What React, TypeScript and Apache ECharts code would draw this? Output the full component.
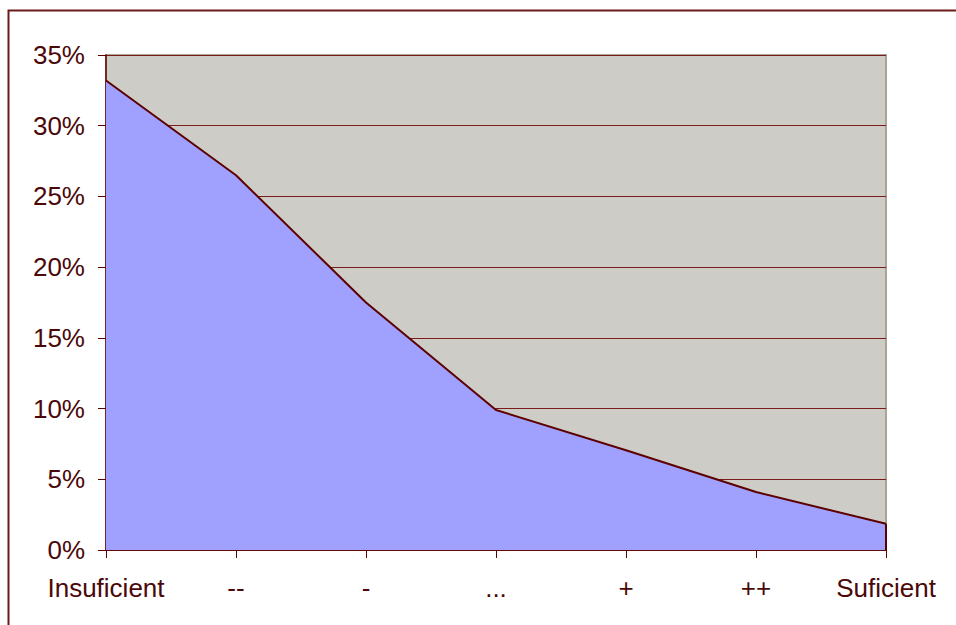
import React, { useEffect, useRef } from "react";
import * as echarts from "echarts";

const categories = ["Insuficient", "--", "-", "...", "+", "++", "Suficient"];
const values = [33.2, 26.5, 17.5, 9.9, 7.05, 4.1, 1.85];
const yTicks = { min: 0, max: 35, interval: 5 };

const textColor = "#4a0808";
const lineColor = "#5c0000";

export default function App() {
  const ref = useRef<HTMLDivElement>(null);
  useEffect(() => {
    const chart = echarts.init(ref.current!, null, { renderer: "svg" });
    const last = categories.length - 1;
    chart.setOption({
      animation: false,
      backgroundColor: "#ffffff",
      graphic: [
        {
          type: "rect",
          shape: { x: 8.5, y: 10.5, width: 1000, height: 700 },
          style: { fill: "none", stroke: "#6a1a1a", lineWidth: 2 },
          silent: true,
          z: 100,
        },
      ],
      grid: {
        left: 106,
        right: 70,
        top: 55,
        bottom: 75,
        show: true,
        backgroundColor: "#CDCCC6",
        borderColor: "#A8A496",
        borderWidth: 2,
      },
      xAxis: {
        type: "category",
        data: categories,
        boundaryGap: false,
        axisLine: { show: true, lineStyle: { color: lineColor, width: 1.5 } },
        axisTick: { show: true, alignWithLabel: true, length: 8, lineStyle: { color: lineColor } },
        axisLabel: {
          color: textColor,
          fontFamily: "Liberation Sans",
          fontSize: 26,
          margin: 25,
          interval: 0,
          showMinLabel: true,
          showMaxLabel: true,
        },
        splitLine: { show: false },
      },
      yAxis: {
        type: "value",
        min: yTicks.min,
        max: yTicks.max,
        interval: yTicks.interval,
        axisLine: { show: true, lineStyle: { color: lineColor, width: 1.5 } },
        axisTick: { show: true, length: 8, lineStyle: { color: lineColor } },
        axisLabel: {
          color: textColor,
          fontFamily: "Liberation Sans",
          fontSize: 26,
          margin: 21,
          formatter: "{value}%",
        },
        splitLine: { show: true, lineStyle: { color: "#7a1c1c", width: 1 } },
      },
      series: [
        {
          type: "line",
          data: values,
          symbol: "none",
          lineStyle: { color: lineColor, width: 2 },
          areaStyle: { color: "#A0A0FF", opacity: 1 },
          markLine: {
            silent: true,
            symbol: "none",
            label: { show: false },
            lineStyle: { color: lineColor, width: 2, type: "solid" },
            data: [
              [
                { coord: [categories[last], values[last]] },
                { coord: [categories[last], 0] },
              ],
            ],
          },
        },
      ],
    });
    return () => chart.dispose();
  }, []);
  return (
    <div
      ref={ref}
      style={{ position: "absolute", left: 0, top: 0, width: 956, height: 625 }}
    />
  );
}
